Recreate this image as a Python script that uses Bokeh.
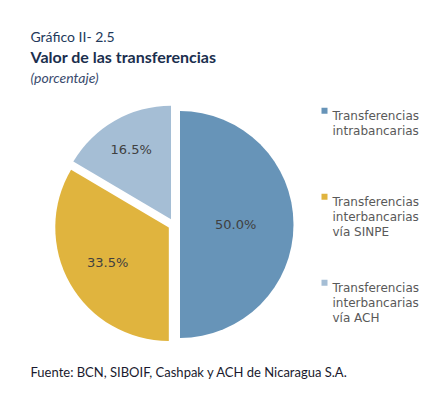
import math
from bokeh.plotting import figure
from bokeh.models import Range1d
from bokeh.embed import file_html
from bokeh.resources import INLINE
from bokeh.core.properties import value

# ---- data ----
categories = [
    "Transferencias\nintrabancarias",
    "Transferencias\ninterbancarias\nvía SINPE",
    "Transferencias\ninterbancarias\nvía ACH",
]
shares = [50.0, 33.5, 16.5]
colors = ["#6794B8", "#E0B43E", "#A5BED5"]

chart_number = "Gráfico II- 2.5"
chart_title = "Valor de las transferencias"
chart_unit = "(porcentaje)"
source_text = "Fuente: BCN, SIBOIF, Cashpak y ACH de Nicaragua S.A."

# ---- layout (pixel-like coordinates; y measured from window top) ----
W, H = 441, 393
def sy(y):
    return 393 - y

p = figure(width=W, height=H, output_backend="svg", toolbar_location=None,
           x_axis_location=None, y_axis_location=None, min_border=0,
           x_range=Range1d(0, 441), y_range=Range1d(0, 393))
p.grid.visible = False
p.outline_line_color = None
p.background_fill_color = "white"
p.border_fill_color = "white"

# pie
cx, cy, r, explode = 173.5, 224.0, 113.5, 6.0
label_frac = [0.49, 0.62, 0.71]
total = sum(shares)
cum = 0.0
wx, wy, st, en, lx, ly, lt = [], [], [], [], [], [], []
for i, s in enumerate(shares):
    a0 = math.pi / 2 - 2 * math.pi * cum / total
    cum += s
    a1 = math.pi / 2 - 2 * math.pi * cum / total
    mid = (a0 + a1) / 2
    x0 = cx + explode * math.cos(mid)
    y0 = sy(cy) + explode * math.sin(mid)
    wx.append(x0); wy.append(y0); st.append(a0); en.append(a1)
    lx.append(x0 + label_frac[i] * r * math.cos(mid))
    ly.append(y0 + label_frac[i] * r * math.sin(mid))
    lt.append(f"{s:.1f}%")

p.wedge(x=wx, y=wy, radius=r, start_angle=st, end_angle=en, direction="clock",
        fill_color=colors, line_color=None)
p.text(x=lx, y=ly, text=lt, text_font=value("DejaVu Sans"), text_font_size="13px",
       text_color="#404040", text_align="center", text_baseline="middle")

# legend
mx, my, tx, tys = [], [], [], []
txs, tts = [], []
for i, lab in enumerate(categories):
    base = 115.7 + 86.0 * i
    mx.append(324.0); my.append(sy(base - 5.5))
    for j, line in enumerate(lab.split("\n")):
        txs.append(332.0); tys.append(sy(base + 15.0 * j)); tts.append(line)
p.scatter(x=mx, y=my, marker="square", size=6, fill_color=colors, line_color=None)
p.text(x=txs, y=tys, text=tts, text_font=value("DejaVu Sans"), text_font_size="12px",
       text_color="#595959", text_align="left", text_baseline="alphabetic")

# titles
p.text(x=[30], y=[sy(36)], text=[chart_number], text_font=value("Lato"),
       text_font_size="14px", text_color="#23395B", text_baseline="alphabetic")
p.text(x=[30], y=[sy(56)], text=[chart_title], text_font=value("Lato"),
       text_font_size="16px", text_font_style="bold", text_color="#1B2F4E",
       text_baseline="alphabetic")
p.text(x=[30], y=[sy(77)], text=[chart_unit], text_font=value("Lato"),
       text_font_size="14px", text_font_style="italic", text_color="#3A4B6E",
       text_baseline="alphabetic")
p.text(x=[30], y=[sy(371)], text=[source_text], text_font=value("Lato"),
       text_font_size="13px", text_color="#1A1A2E", text_baseline="alphabetic")

open("out.html", "w").write(file_html(p, INLINE))
